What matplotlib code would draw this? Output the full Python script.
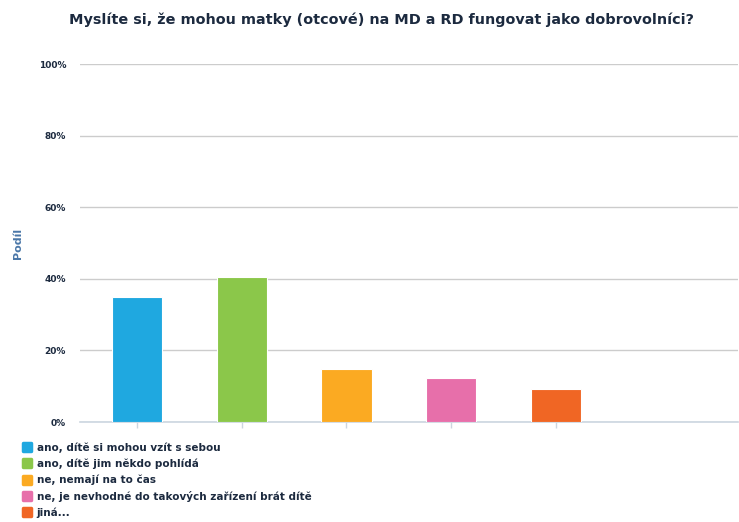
import matplotlib.pyplot as plt
from matplotlib.lines import Line2D
from matplotlib.markers import MarkerStyle

answers = ["ano, dítě si mohou vzít s sebou",
           "ano, dítě jim někdo pohlídá",
           "ne, nemají na to čas",
           "ne, je nevhodné do takových zařízení brát dítě",
           "jiná..."]
shares = [35.0, 40.5, 14.7, 12.2, 9.1]
colors = ["#1fa8e0", "#8bc74a", "#fbaa22", "#e76faa", "#f06624"]
yticks = [0, 20, 40, 60, 80, 100]

navy = "#1c2a3f"

fig = plt.figure(figsize=(7.39, 5.22), dpi=100)
ax = fig.add_axes([80/739, 1-422/522, 658/739, 358/522])

x = range(len(shares))
ax.bar(x, shares, width=0.48, color=colors, edgecolor="white", linewidth=0.8, zorder=3)

ax.set_ylim(0, 100)
ax.set_xlim(-0.544, 5.74)
ax.set_yticks(yticks)
ax.set_yticklabels([f"{v}%" for v in yticks], fontsize=6.5, fontweight="bold", color=navy)
ax.set_xticks(list(x))
ax.set_xticklabels([""] * len(shares))
ax.tick_params(axis="y", length=0, pad=10)
ax.tick_params(axis="x", length=4, color="#ccd6e0", width=1)
ax.grid(axis="y", color="#cccccc", linewidth=1, zorder=0)
for s in ["top", "right", "left"]:
    ax.spines[s].set_visible(False)
ax.spines["bottom"].set_color("#ccd6e0")
ax.spines["bottom"].set_linewidth(1.2)

fig.text(18/739, 1-243/522, "Podíl", rotation=90, ha="center", va="center",
         fontsize=8, fontweight="bold", color="#4a77a8")
fig.suptitle("Myslíte si, že mohou matky (otcové) na MD a RD fungovat jako dobrovolníci?",
             x=0.516, y=1-20/522, va="center", fontsize=10.4, fontweight="bold", color=navy)

rsq = MarkerStyle("s", joinstyle="round")
handles = [Line2D([], [], marker=rsq, linestyle="none", markersize=5.5, markeredgewidth=2.5,
                  markerfacecolor=c, markeredgecolor=c) for c in colors]
fig.legend(handles, answers, loc="upper left", bbox_to_anchor=(17/739, 1-437/522),
           frameon=False, prop={"weight": "bold", "size": 7.5},
           handletextpad=0.5, labelspacing=0.55, borderpad=0, handlelength=0.9,
           labelcolor=navy)

fig.savefig("out.png", dpi=100)
